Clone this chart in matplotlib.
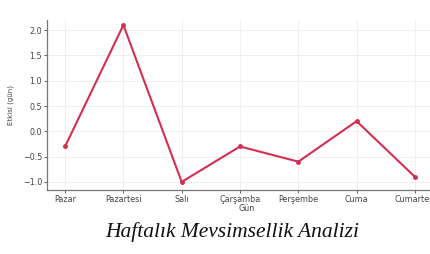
import matplotlib
matplotlib.use("Agg")
import matplotlib.pyplot as plt

# data
days = ["Pazar", "Pazartesi", "Salı", "Çarşamba", "Perşembe", "Cuma", "Cumartesi"]
effect = [-0.3, 2.1, -1.0, -0.3, -0.6, 0.2, -0.9]
yticks = [-1.0, -0.5, 0.0, 0.5, 1.0, 1.5, 2.0]

fig = plt.figure(figsize=(4.3, 2.54), dpi=100)
ax = fig.add_axes([47 / 430, 64 / 254, 400 / 430, 170 / 254])

x = list(range(len(days)))
ax.plot(x, effect, color="#d22f52", lw=1.5, marker="o", ms=2.5, zorder=3)

ax.set_xlim(-0.31, 6.55)
ax.set_ylim(-1.16, 2.2)
ax.set_xticks(x)
ax.set_xticklabels(days)
ax.set_yticks(yticks)
ax.set_yticklabels([f"{v:.1f}".replace("-", "\u2212") for v in yticks])
ax.tick_params(labelsize=5.8, colors="#444444", length=2, width=0.6, pad=1.5)
ax.grid(True, color="#ececec", lw=0.6)
for s in ["top", "right"]:
    ax.spines[s].set_visible(False)
for s in ["left", "bottom"]:
    ax.spines[s].set_color("#777777")
    ax.spines[s].set_linewidth(0.9)

ax.set_xlabel("Gün", fontsize=5.8, color="#444444", labelpad=0)
ax.set_ylabel("Etkisi (gün)", fontsize=5, color="#444444", labelpad=6)

fig.text(232 / 430, 1 - 232 / 254, "Haftalık Mevsimsellik Analizi",
         ha="center", va="center", fontsize=15.5, style="italic",
         family="Liberation Serif", color="#111111")

fig.savefig("out.png", dpi=100, facecolor="white")
